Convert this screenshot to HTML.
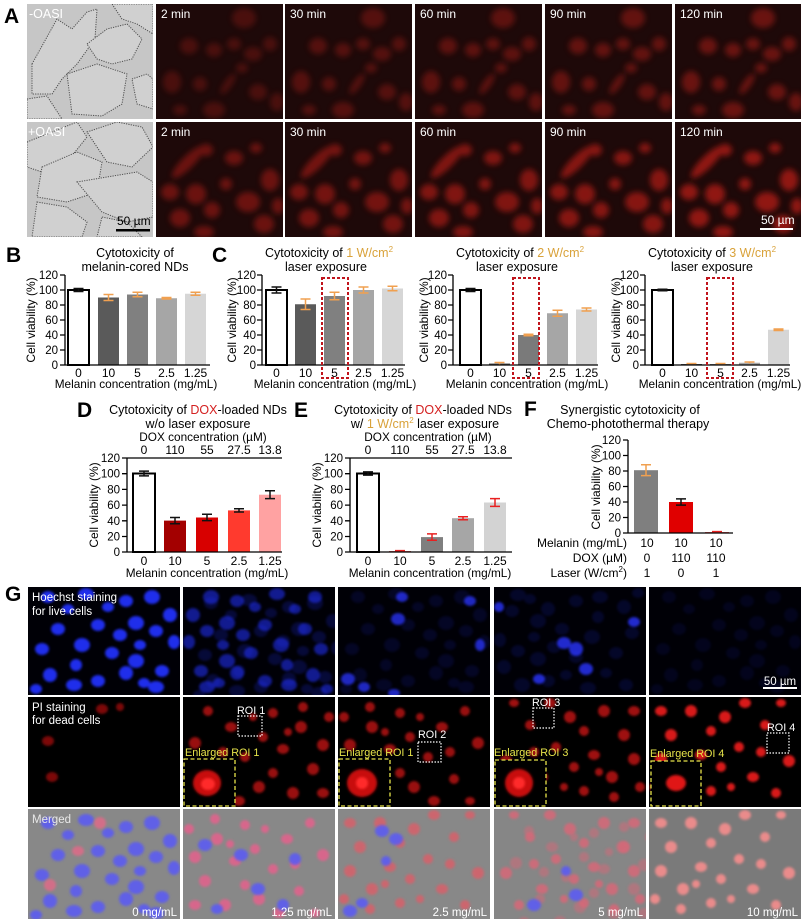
<!DOCTYPE html>
<html><head><meta charset="utf-8"><style>
html,body{margin:0;padding:0;background:#fff;}
svg{display:block;font-family:"Liberation Sans",Arial,sans-serif;}
</style></head><body>
<svg width="805" height="923" viewBox="0 0 805 923" xmlns="http://www.w3.org/2000/svg" xmlns:xlink="http://www.w3.org/1999/xlink">
<defs>
<filter id="bl" x="-20%" y="-20%" width="140%" height="140%"><feGaussianBlur stdDeviation="2.8"/></filter>
<filter id="bs" x="-20%" y="-20%" width="140%" height="140%"><feGaussianBlur stdDeviation="1.2"/></filter>
<g id="ca1">
<ellipse cx="88" cy="14" rx="12" ry="10"/><ellipse cx="33" cy="42" rx="9" ry="8"/><ellipse cx="58" cy="46" rx="8" ry="7"/>
<ellipse cx="78" cy="40" rx="7" ry="6"/><ellipse cx="97" cy="50" rx="9" ry="7"/><ellipse cx="114" cy="40" rx="7" ry="7"/>
<ellipse cx="16" cy="78" rx="9" ry="11"/><ellipse cx="44" cy="80" rx="7" ry="7"/><ellipse cx="72" cy="80" rx="4" ry="12" transform="rotate(35 72 80)"/>
<ellipse cx="102" cy="88" rx="9" ry="8"/><ellipse cx="121" cy="98" rx="7" ry="9"/><ellipse cx="58" cy="106" rx="11" ry="8"/>
<ellipse cx="24" cy="106" rx="7" ry="5"/><ellipse cx="86" cy="64" rx="6" ry="5"/>
</g>
<g id="ca2">
<ellipse cx="32" cy="40" rx="22" ry="6" transform="rotate(-45 32 40)"/><ellipse cx="50" cy="28" rx="7" ry="6"/><ellipse cx="78" cy="36" rx="9" ry="7"/>
<ellipse cx="100" cy="26" rx="6" ry="5"/><ellipse cx="114" cy="58" rx="9" ry="11"/><ellipse cx="14" cy="70" rx="9" ry="8"/>
<ellipse cx="40" cy="72" rx="10" ry="10"/><ellipse cx="24" cy="96" rx="10" ry="9"/><ellipse cx="56" cy="88" rx="8" ry="8"/>
<ellipse cx="92" cy="80" rx="12" ry="10"/><ellipse cx="108" cy="102" rx="10" ry="9"/><ellipse cx="48" cy="110" rx="10" ry="6"/>
<ellipse cx="70" cy="62" rx="6" ry="6"/><ellipse cx="122" cy="84" rx="6" ry="8"/>
</g>
<g id="gb">
<ellipse cx="20" cy="10" rx="7" ry="6"/><ellipse cx="58" cy="7" rx="8" ry="6"/><ellipse cx="98" cy="14" rx="7" ry="6"/>
<ellipse cx="124" cy="10" rx="8" ry="7"/><ellipse cx="142" cy="28" rx="7" ry="7"/><ellipse cx="108" cy="36" rx="8" ry="7"/>
<ellipse cx="128" cy="44" rx="7" ry="6"/><ellipse cx="146" cy="55" rx="6" ry="7"/><ellipse cx="30" cy="42" rx="7" ry="6"/>
<ellipse cx="14" cy="62" rx="7" ry="6"/><ellipse cx="54" cy="58" rx="8" ry="7"/><ellipse cx="84" cy="66" rx="7" ry="6"/>
<ellipse cx="108" cy="74" rx="8" ry="7"/><ellipse cx="134" cy="84" rx="7" ry="6"/><ellipse cx="22" cy="88" rx="7" ry="7"/>
<ellipse cx="46" cy="98" rx="8" ry="6"/><ellipse cx="70" cy="94" rx="7" ry="6"/><ellipse cx="98" cy="86" rx="7" ry="7"/>
<ellipse cx="128" cy="100" rx="8" ry="6"/><ellipse cx="8" cy="102" rx="6" ry="5"/><ellipse cx="70" cy="38" rx="7" ry="6"/>
<ellipse cx="92" cy="48" rx="7" ry="6"/><ellipse cx="116" cy="96" rx="6" ry="5"/><ellipse cx="48" cy="78" rx="6" ry="6"/>
<ellipse cx="112" cy="58" rx="6" ry="5"/><ellipse cx="40" cy="22" rx="6" ry="5"/><ellipse cx="80" cy="20" rx="6" ry="5"/>
</g>
<g id="gr">
<ellipse cx="25" cy="14" rx="5" ry="5"/><ellipse cx="48" cy="30" rx="6" ry="5"/><ellipse cx="90" cy="16" rx="5" ry="5"/>
<ellipse cx="118" cy="30" rx="6" ry="6"/><ellipse cx="140" cy="48" rx="6" ry="6"/><ellipse cx="62" cy="60" rx="5" ry="5"/>
<ellipse cx="100" cy="52" rx="6" ry="5"/><ellipse cx="130" cy="72" rx="6" ry="6"/><ellipse cx="12" cy="46" rx="6" ry="6"/>
<ellipse cx="36" cy="82" rx="5" ry="5"/><ellipse cx="76" cy="90" rx="6" ry="6"/><ellipse cx="110" cy="96" rx="6" ry="6"/>
<ellipse cx="140" cy="96" rx="6" ry="5"/><ellipse cx="90" cy="76" rx="5" ry="5"/><ellipse cx="20" cy="104" rx="5" ry="4"/>
<ellipse cx="56" cy="104" rx="6" ry="5"/><ellipse cx="120" cy="10" rx="5" ry="5"/><ellipse cx="80" cy="40" rx="5" ry="5"/>
<ellipse cx="146" cy="20" rx="5" ry="5"/><ellipse cx="40" cy="55" rx="5" ry="5"/><ellipse cx="70" cy="20" rx="4" ry="4"/>
<ellipse cx="105" cy="35" rx="4" ry="4"/>
</g>
</defs>

<!-- ============ PANEL A ============ -->
<text x="4" y="23" font-size="21" font-weight="bold">A</text>
<svg x="27" y="4" width="126" height="115">
<rect width="126" height="115" fill="#c6c6c6"/>
<g fill="#d0d0d0" stroke="#505050" stroke-width="1" stroke-dasharray="1.2 1.2">
<polygon points="5,60 30,15 45,25 60,8 70,5 68,35 50,60 35,75 25,90 5,90"/>
<polygon points="60,40 80,25 100,20 115,35 105,55 85,60 70,55"/>
<polygon points="40,70 70,60 100,70 95,100 75,112 45,110"/>
<polygon points="105,75 120,70 126,75 126,105 110,100"/>
<polygon points="85,0 126,0 126,30 110,20 95,15"/>
<polygon points="0,95 20,92 35,115 0,115"/>
</g>
<text x="2" y="14" font-size="12.5" fill="#fff">-OASI</text>
</svg>
<svg x="27" y="122" width="126" height="115">
<rect width="126" height="115" fill="#c6c6c6"/>
<g fill="#d0d0d0" stroke="#505050" stroke-width="1" stroke-dasharray="1.2 1.2">
<polygon points="0,20 25,10 50,0 60,15 40,40 15,50 0,45"/>
<polygon points="15,45 50,30 75,40 70,70 40,80 10,75"/>
<polygon points="60,10 90,0 115,5 126,25 105,45 80,40"/>
<polygon points="50,60 80,55 110,50 126,60 126,95 100,100 75,90"/>
<polygon points="10,80 40,85 60,100 55,115 5,115"/>
<polygon points="75,95 100,100 115,115 70,115"/>
</g>
<text x="1" y="14" font-size="12.5" fill="#fff">+OASI</text>
<text x="90" y="103" font-size="12" fill="#000">50 µm</text>
<rect x="89" y="107" width="34" height="2.5" fill="#000"/>
</svg>

<svg x="156" y="4" width="127" height="115"><rect width="127" height="115" fill="#1e0909"/><use href="#ca1" fill="#a81c16" filter="url(#bl)" opacity="0.32"/><text x="5" y="14" font-size="12" fill="#fff">2 min</text></svg>
<svg x="285" y="4" width="127" height="115"><rect width="127" height="115" fill="#1e0909"/><use href="#ca1" fill="#a81c16" filter="url(#bl)" opacity="0.4"/><text x="5" y="14" font-size="12" fill="#fff">30 min</text></svg>
<svg x="415" y="4" width="127" height="115"><rect width="127" height="115" fill="#1e0909"/><use href="#ca1" fill="#a81c16" filter="url(#bl)" opacity="0.46"/><text x="5" y="14" font-size="12" fill="#fff">60 min</text></svg>
<svg x="545" y="4" width="127" height="115"><rect width="127" height="115" fill="#1e0909"/><use href="#ca1" fill="#a81c16" filter="url(#bl)" opacity="0.5"/><text x="5" y="14" font-size="12" fill="#fff">90 min</text></svg>
<svg x="675" y="4" width="126" height="115"><rect width="126" height="115" fill="#1e0909"/><use href="#ca1" fill="#a81c16" filter="url(#bl)" opacity="0.55"/><text x="5" y="14" font-size="12" fill="#fff">120 min</text></svg>

<svg x="156" y="122" width="127" height="115"><rect width="127" height="115" fill="#1e0909"/><use href="#ca2" fill="#b81e18" filter="url(#bl)" opacity="0.5"/><text x="5" y="14" font-size="12" fill="#fff">2 min</text></svg>
<svg x="285" y="122" width="127" height="115"><rect width="127" height="115" fill="#1e0909"/><use href="#ca2" fill="#b81e18" filter="url(#bl)" opacity="0.56"/><text x="5" y="14" font-size="12" fill="#fff">30 min</text></svg>
<svg x="415" y="122" width="127" height="115"><rect width="127" height="115" fill="#1e0909"/><use href="#ca2" fill="#b81e18" filter="url(#bl)" opacity="0.64"/><text x="5" y="14" font-size="12" fill="#fff">60 min</text></svg>
<svg x="545" y="122" width="127" height="115"><rect width="127" height="115" fill="#1e0909"/><use href="#ca2" fill="#b81e18" filter="url(#bl)" opacity="0.68"/><text x="5" y="14" font-size="12" fill="#fff">90 min</text></svg>
<svg x="675" y="122" width="126" height="115"><rect width="126" height="115" fill="#1e0909"/><use href="#ca2" fill="#b81e18" filter="url(#bl)" opacity="0.74"/><text x="5" y="14" font-size="12" fill="#fff">120 min</text>
<text x="86" y="102" font-size="12" fill="#fff">50 µm</text><rect x="85" y="106" width="33" height="2" fill="#fff"/></svg>

<!-- ============ PANEL B ============ -->
<g font-size="12.5" text-anchor="middle">
<text x="6" y="262" font-size="21" font-weight="bold" text-anchor="start">B</text>
<text x="135" y="257">Cytotoxicity of</text>
<text x="135" y="271">melanin-cored NDs</text>
</g>
<rect x="68" y="290" width="21" height="75" fill="#fff" stroke="#000" stroke-width="2"/>
<rect x="98" y="297.5" width="21" height="67.5" fill="#5a5a5a"/>
<rect x="127" y="294.5" width="21" height="70.5" fill="#808080"/>
<rect x="156" y="298.25" width="21" height="66.75" fill="#a6a6a6"/>
<rect x="185" y="293.75" width="21" height="71.25" fill="#d6d6d6"/>
<g fill="none" stroke-width="1.5">
<path stroke="#111" d="M78.5 291.5V288.5M73.5 288.5H83.5M73.5 291.5H83.5"/>
<path stroke="#f0a050" d="M108.5 300.5V294.5M103.5 294.5H113.5M103.5 300.5H113.5M137.5 296.75V292.25M132.5 292.25H142.5M132.5 296.75H142.5M166.5 299V297.5M161.5 297.5H171.5M161.5 299H171.5M195.5 295.25V292.25M190.5 292.25H200.5M190.5 295.25H200.5"/>
</g>
<path d="M65 275V365H210M60 275H65M60 290H65M60 305H65M60 320H65M60 335H65M60 350H65M60 365H65" stroke="#000" stroke-width="1.3" fill="none"/>
<g font-size="11.5" text-anchor="end">
<text x="58" y="279">120</text><text x="58" y="294">100</text><text x="58" y="309">80</text><text x="58" y="324">60</text><text x="58" y="339">40</text><text x="58" y="354">20</text><text x="58" y="369">0</text>
</g>
<g font-size="12" text-anchor="middle">
<text x="78.5" y="377">0</text><text x="108.5" y="377">10</text><text x="137.5" y="377">5</text><text x="166.5" y="377">2.5</text><text x="195.5" y="377">1.25</text>
<text x="136" y="388" font-size="11.8">Melanin concentration (mg/mL)</text>
<text transform="translate(35,320) rotate(-90)" font-size="12">Cell viability (%)</text>
</g>

<!-- ============ PANEL C1 ============ -->
<text x="212" y="262" font-size="21" font-weight="bold">C</text>
<g font-size="12.5" text-anchor="middle">
<text x="329" y="257">Cytotoxicity of <tspan fill="#d9a23a">1 W/cm<tspan font-size="8" dy="-5">2</tspan></tspan></text>
<text x="326" y="271">laser exposure</text>
</g>
<rect x="266" y="290" width="21" height="75" fill="#fff" stroke="#000" stroke-width="2"/>
<rect x="295" y="304.25" width="21" height="60.75" fill="#5a5a5a"/>
<rect x="324" y="296" width="21" height="69" fill="#808080"/>
<rect x="353" y="290" width="21" height="75" fill="#a6a6a6"/>
<rect x="382" y="288.5" width="21" height="76.5" fill="#d6d6d6"/>
<g fill="none" stroke-width="1.5">
<path stroke="#111" d="M276.5 293V287M271.5 287H281.5M271.5 293H281.5"/>
<path stroke="#f0a050" d="M305.5 309.5V299M300.5 299H310.5M300.5 309.5H310.5M334.5 299.75V292.25M329.5 292.25H339.5M329.5 299.75H339.5M363.5 293V287M358.5 287H368.5M358.5 293H368.5M392.5 290.75V286.25M387.5 286.25H397.5M387.5 290.75H397.5"/>
</g>
<path d="M262 275V365H405M257 275H262M257 290H262M257 305H262M257 320H262M257 335H262M257 350H262M257 365H262" stroke="#000" stroke-width="1.3" fill="none"/>
<rect x="322" y="278" width="26" height="100" fill="none" stroke="#c0141c" stroke-width="2" stroke-dasharray="3 2"/>
<g font-size="11.5" text-anchor="end">
<text x="256" y="279">120</text><text x="256" y="294">100</text><text x="256" y="309">80</text><text x="256" y="324">60</text><text x="256" y="339">40</text><text x="256" y="354">20</text><text x="256" y="369">0</text>
</g>
<g font-size="12" text-anchor="middle">
<text x="276.5" y="377">0</text><text x="305.5" y="377">10</text><text x="334.5" y="377">5</text><text x="363.5" y="377">2.5</text><text x="392.5" y="377">1.25</text>
<text x="335" y="388" font-size="11.8">Melanin concentration (mg/mL)</text>
<text transform="translate(236,320) rotate(-90)" font-size="12">Cell viability (%)</text>
</g>

<!-- ============ PANEL C2 ============ -->
<g font-size="12.5" text-anchor="middle">
<text x="520" y="257">Cytotoxicity of <tspan fill="#d9a23a">2 W/cm<tspan font-size="8" dy="-5">2</tspan></tspan></text>
<text x="517" y="271">laser exposure</text>
</g>
<rect x="460" y="290" width="21" height="75" fill="#fff" stroke="#000" stroke-width="2"/>
<rect x="489" y="363.5" width="21" height="1.5" fill="#5a5a5a"/>
<rect x="518" y="335" width="21" height="30" fill="#7a7a7a"/>
<rect x="547" y="313.25" width="21" height="51.75" fill="#a6a6a6"/>
<rect x="576" y="309.5" width="21" height="55.5" fill="#d6d6d6"/>
<g fill="none" stroke-width="1.5">
<path stroke="#111" d="M470.5 291.5V288.5M465.5 288.5H475.5M465.5 291.5H475.5"/>
<path stroke="#f0a050" d="M499.5 364.5V362.5M494.5 362.5H504.5M528.5 335.75V334.25M523.5 334.25H533.5M523.5 335.75H533.5M557.5 316.25V310.25M552.5 310.25H562.5M552.5 316.25H562.5M586.5 311V308M581.5 308H591.5M581.5 311H591.5"/>
</g>
<path d="M453 275V365H598M448 275H453M448 290H453M448 305H453M448 320H453M448 335H453M448 350H453M448 365H453" stroke="#000" stroke-width="1.3" fill="none"/>
<rect x="513" y="278" width="26" height="100" fill="none" stroke="#c0141c" stroke-width="2" stroke-dasharray="3 2"/>
<g font-size="11.5" text-anchor="end">
<text x="447" y="279">120</text><text x="447" y="294">100</text><text x="447" y="309">80</text><text x="447" y="324">60</text><text x="447" y="339">40</text><text x="447" y="354">20</text><text x="447" y="369">0</text>
</g>
<g font-size="12" text-anchor="middle">
<text x="470.5" y="377">0</text><text x="499.5" y="377">10</text><text x="528.5" y="377">5</text><text x="557.5" y="377">2.5</text><text x="586.5" y="377">1.25</text>
<text x="527" y="388" font-size="11.8">Melanin concentration (mg/mL)</text>
<text transform="translate(428,320) rotate(-90)" font-size="12">Cell viability (%)</text>
</g>

<!-- ============ PANEL C3 ============ -->
<g font-size="12.5" text-anchor="middle">
<text x="712" y="257">Cytotoxicity of <tspan fill="#d9a23a">3 W/cm<tspan font-size="8" dy="-5">2</tspan></tspan></text>
<text x="712" y="271">laser exposure</text>
</g>
<rect x="652" y="290" width="21" height="75" fill="#fff" stroke="#000" stroke-width="2"/>
<rect x="681" y="364" width="21" height="1" fill="#5a5a5a"/>
<rect x="710" y="364" width="21" height="1" fill="#7a7a7a"/>
<rect x="739" y="362.75" width="21" height="2.25" fill="#a6a6a6"/>
<rect x="768" y="329.75" width="21" height="35.25" fill="#d6d6d6"/>
<g fill="none" stroke-width="1.5">
<path stroke="#111" d="M662.5 290.75V289.25M657.5 289.25H667.5M657.5 290.75H667.5"/>
<path stroke="#f0a050" d="M686.5 363.5H696.5M715.5 363.5H725.5M749.5 363.5V362M744.5 362H754.5M778.5 330.5V329M773.5 329H783.5M773.5 330.5H783.5"/>
</g>
<path d="M645 275V365H790M640 275H645M640 290H645M640 305H645M640 320H645M640 335H645M640 350H645M640 365H645" stroke="#000" stroke-width="1.3" fill="none"/>
<rect x="707" y="278" width="26" height="100" fill="none" stroke="#c0141c" stroke-width="2" stroke-dasharray="3 2"/>
<g font-size="11.5" text-anchor="end">
<text x="639" y="279">120</text><text x="639" y="294">100</text><text x="639" y="309">80</text><text x="639" y="324">60</text><text x="639" y="339">40</text><text x="639" y="354">20</text><text x="639" y="369">0</text>
</g>
<g font-size="12" text-anchor="middle">
<text x="662.5" y="377">0</text><text x="691.5" y="377">10</text><text x="720.5" y="377">5</text><text x="749.5" y="377">2.5</text><text x="778.5" y="377">1.25</text>
<text x="720" y="388" font-size="11.8">Melanin concentration (mg/mL)</text>
<text transform="translate(620,320) rotate(-90)" font-size="12">Cell viability (%)</text>
</g>

<!-- ============ PANEL D ============ -->
<text x="77" y="417" font-size="21" font-weight="bold">D</text>
<g font-size="12.5" text-anchor="middle">
<text x="198" y="414">Cytotoxicity of <tspan fill="#d42020">DOX</tspan>-loaded NDs</text>
<text x="198" y="428">w/o laser exposure</text>
</g>
<rect x="133" y="473.5" width="22" height="78.5" fill="#fff" stroke="#000" stroke-width="2"/>
<rect x="164" y="520.6" width="22" height="31.4" fill="#a30000"/>
<rect x="196" y="517.5" width="22" height="34.5" fill="#d80000"/>
<rect x="228" y="510.4" width="22" height="41.6" fill="#ff3a2e"/>
<rect x="259" y="494.7" width="22" height="57.3" fill="#ffa2a2"/>
<path fill="none" stroke="#111" stroke-width="1.5" d="M144 475.9V471.1M139 471.1H149M139 475.9H149M175 523.7V517.5M170 517.5H180M170 523.7H180M207 520.6V514.3M202 514.3H212M202 520.6H212M239 512V508.8M234 508.8H244M234 512H244M270 498.6V490.8M265 490.8H275M265 498.6H275"/>
<path d="M127 458H282M127 458V552H282M122 458H127M122 473.7H127M122 489.4H127M122 505.1H127M122 520.8H127M122 536.5H127M122 552H127" stroke="#000" stroke-width="1.3" fill="none"/>
<g font-size="11.5" text-anchor="end">
<text x="120" y="462">120</text><text x="120" y="477.7">100</text><text x="120" y="493.4">80</text><text x="120" y="509.1">60</text><text x="120" y="524.8">40</text><text x="120" y="540.5">20</text><text x="120" y="556">0</text>
</g>
<g font-size="12" text-anchor="middle">
<text x="203" y="441" font-size="11.8">DOX concentration (µM)</text>
<text x="144" y="454">0</text><text x="175" y="454">110</text><text x="207" y="454">55</text><text x="239" y="454">27.5</text><text x="270" y="454">13.8</text>
<text x="144" y="565">0</text><text x="175" y="565">10</text><text x="207" y="565">5</text><text x="239" y="565">2.5</text><text x="270" y="565">1.25</text>
<text x="207" y="577" font-size="11.8">Melanin concentration (mg/mL)</text>
<text transform="translate(98,505) rotate(-90)" font-size="12">Cell viability (%)</text>
</g>

<!-- ============ PANEL E ============ -->
<text x="294" y="417" font-size="21" font-weight="bold">E</text>
<g font-size="12.5" text-anchor="middle">
<text x="423" y="414">Cytotoxicity of <tspan fill="#d42020">DOX</tspan>-loaded NDs</text>
<text x="425" y="428">w/ <tspan fill="#d9a23a">1 W/cm<tspan font-size="8" dy="-5">2</tspan></tspan><tspan dy="5"> laser exposure</tspan></text>
</g>
<rect x="357" y="473.5" width="22" height="78.5" fill="#fff" stroke="#000" stroke-width="2"/>
<rect x="389" y="551.2" width="22" height="0.8" fill="#b00000"/>
<rect x="421" y="537.1" width="22" height="14.9" fill="#7f7f7f"/>
<rect x="452" y="518.2" width="22" height="33.8" fill="#a6a6a6"/>
<rect x="484" y="502.5" width="22" height="49.5" fill="#d3d3d3"/>
<g fill="none" stroke-width="1.5">
<path stroke="#111" d="M368 475.1V471.9M363 471.9H373M363 475.1H373"/>
<path stroke="#e82020" d="M395 550.6H405M432 540.2V533.9M427 533.9H437M427 540.2H437M463 519.8V516.7M458 516.7H468M458 519.8H468M495 506.4V498.6M490 498.6H500M490 506.4H500"/>
</g>
<path d="M350 458H512M350 458V552H512M345 458H350M345 473.7H350M345 489.4H350M345 505.1H350M345 520.8H350M345 536.5H350M345 552H350" stroke="#000" stroke-width="1.3" fill="none"/>
<g font-size="11.5" text-anchor="end">
<text x="343" y="462">120</text><text x="343" y="477.7">100</text><text x="343" y="493.4">80</text><text x="343" y="509.1">60</text><text x="343" y="524.8">40</text><text x="343" y="540.5">20</text><text x="343" y="556">0</text>
</g>
<g font-size="12" text-anchor="middle">
<text x="428" y="441" font-size="11.8">DOX concentration (µM)</text>
<text x="368" y="454">0</text><text x="400" y="454">110</text><text x="432" y="454">55</text><text x="463" y="454">27.5</text><text x="495" y="454">13.8</text>
<text x="368" y="565">0</text><text x="400" y="565">10</text><text x="432" y="565">5</text><text x="463" y="565">2.5</text><text x="495" y="565">1.25</text>
<text x="430" y="577" font-size="11.8">Melanin concentration (mg/mL)</text>
<text transform="translate(321,505) rotate(-90)" font-size="12">Cell viability (%)</text>
</g>

<!-- ============ PANEL F ============ -->
<text x="524" y="416" font-size="21" font-weight="bold">F</text>
<g font-size="12.5" text-anchor="middle">
<text x="630" y="414">Synergistic cytotoxicity of</text>
<text x="628" y="428">Chemo-photothermal therapy</text>
</g>
<rect x="634" y="470.2" width="24" height="62.8" fill="#7f7f7f"/>
<rect x="669" y="502" width="24" height="31" fill="#e00000"/>
<rect x="705" y="532.2" width="24" height="0.8" fill="#e00000"/>
<g fill="none" stroke-width="1.5">
<path stroke="#f0a050" d="M646 475.6V464.8M641 464.8H651M641 475.6H651"/>
<path stroke="#111" d="M681 505.1V498.9M676 498.9H686M676 505.1H686"/>
<path stroke="#e82020" d="M712 531.6H722"/>
</g>
<path d="M628 440V533H733M623 440H628M623 455.5H628M623 471H628M623 486.5H628M623 502H628M623 517.5H628M623 533H628" stroke="#000" stroke-width="1.3" fill="none"/>
<g font-size="11.5" text-anchor="end">
<text x="621" y="444">120</text><text x="621" y="459.5">100</text><text x="621" y="475">80</text><text x="621" y="490.5">60</text><text x="621" y="506">40</text><text x="621" y="521.5">20</text><text x="621" y="537">0</text>
<text x="627" y="547" font-size="12">Melanin (mg/mL)</text>
<text x="627" y="562" font-size="12">DOX (µM)</text>
<text x="627" y="577" font-size="12">Laser (W/cm<tspan font-size="8" dy="-5">2</tspan><tspan dy="5">)</tspan></text>
</g>
<g font-size="12" text-anchor="middle">
<text x="647" y="547">10</text><text x="681" y="547">10</text><text x="716" y="547">10</text>
<text x="647" y="562">0</text><text x="681" y="562">110</text><text x="716" y="562">110</text>
<text x="647" y="577">1</text><text x="681" y="577">0</text><text x="716" y="577">1</text>
<text transform="translate(600,487) rotate(-90)" font-size="12">Cell viability (%)</text>
</g>

<!-- ============ PANEL G ============ -->
<text x="5" y="601" font-size="21" font-weight="bold">G</text>
<svg x="28" y="587" width="152" height="108"><rect width="152" height="108" fill="#000006"/><use href="#gb" fill="#2230ff" filter="url(#bs)" opacity="0.92"/>
<text x="4" y="14" font-size="11.5" fill="#fff">Hoechst staining</text><text x="4" y="28" font-size="11.5" fill="#fff">for live cells</text></svg>
<svg x="183" y="587" width="152" height="108"><rect width="152" height="108" fill="#000006"/><use href="#gb" fill="#2230ff" filter="url(#bs)" opacity="0.55" transform="translate(152,0) scale(-1,1)"/><use href="#gb" fill="#2230ff" filter="url(#bs)" opacity="0.2" transform="translate(8,6)"/></svg>
<svg x="338" y="587" width="152" height="108"><rect width="152" height="108" fill="#000006"/><use href="#gb" fill="#2230ff" filter="url(#bs)" opacity="0.12"/>
<g fill="#2a36ff" filter="url(#bs)" opacity="0.75"><ellipse cx="64" cy="10" rx="6" ry="5"/><ellipse cx="132" cy="14" rx="6" ry="5"/><ellipse cx="60" cy="32" rx="7" ry="6"/><ellipse cx="10" cy="92" rx="7" ry="6"/><ellipse cx="26" cy="100" rx="6" ry="5"/><ellipse cx="142" cy="58" rx="5" ry="6"/><ellipse cx="56" cy="106" rx="6" ry="4"/></g></svg>
<svg x="494" y="587" width="152" height="108"><rect width="152" height="108" fill="#000006"/><use href="#gb" fill="#2230ff" filter="url(#bs)" opacity="0.14" transform="rotate(180 76 54)"/>
<g fill="#2a36ff" filter="url(#bs)" opacity="0.8"><ellipse cx="70" cy="56" rx="7" ry="6"/><ellipse cx="82" cy="62" rx="7" ry="7"/><ellipse cx="92" cy="82" rx="7" ry="6"/><ellipse cx="45" cy="92" rx="6" ry="5"/><ellipse cx="5" cy="20" rx="5" ry="5"/><ellipse cx="140" cy="35" rx="6" ry="5"/></g></svg>
<svg x="649" y="587" width="152" height="108"><rect width="152" height="108" fill="#000006"/><use href="#gb" fill="#2230ff" filter="url(#bs)" opacity="0.09"/>
<text x="131" y="98" font-size="11.5" fill="#fff" text-anchor="middle">50 µm</text><rect x="114" y="100" width="34" height="2" fill="#fff"/></svg>

<svg x="28" y="697" width="152" height="110"><rect width="152" height="110" fill="#000"/>
<g fill="#c01010" filter="url(#bs)" opacity="0.65"><ellipse cx="74" cy="12" rx="6" ry="5"/><ellipse cx="92" cy="10" rx="4" ry="4"/><ellipse cx="20" cy="44" rx="6" ry="5"/><ellipse cx="24" cy="80" rx="6" ry="5"/></g>
<text x="4" y="14" font-size="11.5" fill="#fff">PI staining</text><text x="4" y="27" font-size="11.5" fill="#fff">for dead cells</text></svg>
<svg x="183" y="697" width="152" height="110"><rect width="152" height="110" fill="#000"/><use href="#gr" fill="#d41212" filter="url(#bs)" opacity="0.72"/>
<rect x="1" y="62" width="51" height="48" fill="#000"/>
<ellipse cx="24" cy="86" rx="14" ry="13" fill="#c81010" filter="url(#bs)"/><ellipse cx="25" cy="87" rx="7" ry="6" fill="#ff2a2a" filter="url(#bs)"/>
<rect x="1" y="62" width="51" height="47" fill="none" stroke="#e6e34a" stroke-width="1.3" stroke-dasharray="4 2.5"/>
<text x="2" y="59" font-size="10.8" fill="#e6e34a">Enlarged ROI 1</text>
<text x="54" y="17" font-size="10.8" fill="#fff">ROI 1</text>
<rect x="55" y="19" width="24" height="20" fill="none" stroke="#fff" stroke-width="1.2" stroke-dasharray="1.5 1.5"/></svg>
<svg x="338" y="697" width="152" height="110"><rect width="152" height="110" fill="#000"/><use href="#gr" fill="#d41212" filter="url(#bs)" opacity="0.72" transform="translate(152,0) scale(-1,1)"/>
<rect x="1" y="62" width="51" height="48" fill="#000"/>
<ellipse cx="24" cy="86" rx="15" ry="14" fill="#c81010" filter="url(#bs)"/><ellipse cx="24" cy="86" rx="6" ry="6" fill="#ff2a2a" filter="url(#bs)"/>
<rect x="1" y="62" width="51" height="47" fill="none" stroke="#e6e34a" stroke-width="1.3" stroke-dasharray="4 2.5"/>
<text x="1" y="59" font-size="10.8" fill="#e6e34a">Enlarged ROI 1</text>
<text x="80" y="41" font-size="10.8" fill="#fff">ROI 2</text>
<rect x="80" y="45" width="23" height="20" fill="none" stroke="#fff" stroke-width="1.2" stroke-dasharray="1.5 1.5"/></svg>
<svg x="494" y="697" width="152" height="110"><rect width="152" height="110" fill="#000"/><use href="#gr" fill="#d41212" filter="url(#bs)" opacity="0.75" transform="translate(0,110) scale(1,-1)"/>
<rect x="1" y="63" width="51" height="47" fill="#000"/>
<ellipse cx="25" cy="86" rx="14" ry="14" fill="#c81010" filter="url(#bs)"/><ellipse cx="25" cy="86" rx="6" ry="6" fill="#ff2a2a" filter="url(#bs)"/>
<rect x="1" y="63" width="51" height="46" fill="none" stroke="#e6e34a" stroke-width="1.3" stroke-dasharray="4 2.5"/>
<text x="0" y="59" font-size="10.8" fill="#e6e34a">Enlarged ROI 3</text>
<text x="38" y="9" font-size="10.8" fill="#fff">ROI 3</text>
<rect x="39" y="11" width="21" height="20" fill="none" stroke="#fff" stroke-width="1.2" stroke-dasharray="1.5 1.5"/></svg>
<svg x="649" y="697" width="152" height="110"><rect width="152" height="110" fill="#000"/><use href="#gr" fill="#f01c1c" filter="url(#bs)" opacity="0.9" transform="rotate(180 76 55)"/>
<rect x="2" y="64" width="50" height="46" fill="#000"/>
<ellipse cx="27" cy="86" rx="10" ry="8" fill="#e01818" filter="url(#bs)"/>
<rect x="2" y="64" width="50" height="45" fill="none" stroke="#e6e34a" stroke-width="1.3" stroke-dasharray="4 2.5"/>
<text x="1" y="60" font-size="10.8" fill="#e6e34a">Enlarged ROI 4</text>
<text x="118" y="34" font-size="10.8" fill="#fff">ROI 4</text>
<rect x="118" y="36" width="22" height="20" fill="none" stroke="#fff" stroke-width="1.2" stroke-dasharray="1.5 1.5"/></svg>

<svg x="28" y="809" width="152" height="110"><rect width="152" height="110" fill="#888"/>
<use href="#gb" fill="#5c5cf2" filter="url(#bs)" opacity="0.9" transform="translate(0,4)"/>
<g fill="#e06a88" filter="url(#bs)" opacity="0.85"><ellipse cx="72" cy="14" rx="6" ry="6"/><ellipse cx="50" cy="42" rx="6" ry="5"/><ellipse cx="22" cy="76" rx="6" ry="6"/></g>
<text x="4" y="14" font-size="11.5" fill="#e8e8e8">Merged</text>
<text x="149" y="107" font-size="11.5" fill="#fff" text-anchor="end">0 mg/mL</text></svg>
<svg x="183" y="809" width="152" height="110"><rect width="152" height="110" fill="#888"/>
<use href="#gr" fill="#e0648c" filter="url(#bs)" opacity="0.9" transform="translate(152,0) scale(-1,1)"/>
<g fill="#5c5cf2" filter="url(#bs)" opacity="0.9"><ellipse cx="22" cy="36" rx="7" ry="6"/><ellipse cx="58" cy="46" rx="7" ry="6"/><ellipse cx="75" cy="80" rx="7" ry="6"/><ellipse cx="100" cy="96" rx="6" ry="6"/><ellipse cx="34" cy="100" rx="6" ry="5"/><ellipse cx="112" cy="50" rx="6" ry="6"/></g>
<text x="149" y="107" font-size="11.5" fill="#fff" text-anchor="end">1.25 mg/mL</text></svg>
<svg x="338" y="809" width="152" height="110"><rect width="152" height="110" fill="#888"/>
<use href="#gr" fill="#d8606a" filter="url(#bs)" opacity="0.85" transform="rotate(180 76 55)"/>
<g fill="#5c5cf2" filter="url(#bs)" opacity="0.9"><ellipse cx="44" cy="22" rx="7" ry="6"/><ellipse cx="58" cy="30" rx="7" ry="6"/><ellipse cx="12" cy="102" rx="7" ry="6"/><ellipse cx="24" cy="94" rx="6" ry="5"/><ellipse cx="48" cy="52" rx="5" ry="5"/></g>
<text x="149" y="107" font-size="11.5" fill="#fff" text-anchor="end">2.5 mg/mL</text></svg>
<svg x="494" y="809" width="152" height="110"><rect width="152" height="110" fill="#868686"/>
<use href="#gr" fill="#d86878" filter="url(#bs)" opacity="0.85" transform="translate(0,110) scale(1,-1)"/>
<use href="#gr" fill="#d86878" filter="url(#bs)" opacity="0.5" transform="translate(10,8)"/>
<g fill="#5c5cf2" filter="url(#bs)" opacity="0.9"><ellipse cx="82" cy="86" rx="7" ry="6"/><ellipse cx="40" cy="96" rx="7" ry="6"/><ellipse cx="72" cy="62" rx="5" ry="5"/></g>
<text x="149" y="107" font-size="11.5" fill="#fff" text-anchor="end">5 mg/mL</text></svg>
<svg x="649" y="809" width="152" height="110"><rect width="152" height="110" fill="#7a7a7a"/>
<use href="#gr" fill="#f08c8c" filter="url(#bs)" opacity="0.95" transform="rotate(180 76 55)"/>
<text x="149" y="107" font-size="11.5" fill="#fff" text-anchor="end">10 mg/mL</text></svg>

</svg>
</body></html>
